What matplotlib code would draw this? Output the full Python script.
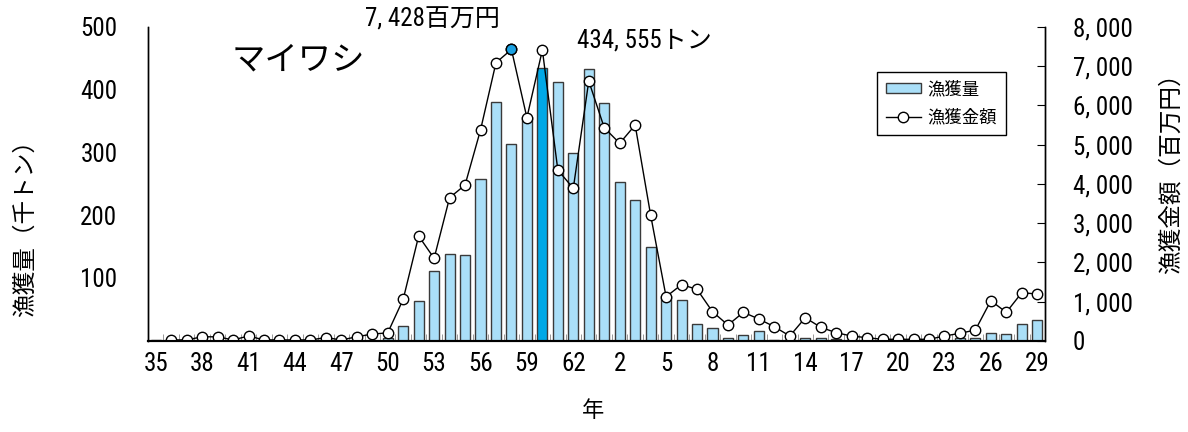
import numpy as np
import matplotlib
matplotlib.use("Agg")
import matplotlib.pyplot as plt
from matplotlib.patches import Patch
from matplotlib.lines import Line2D
from matplotlib.ticker import FixedLocator, FuncFormatter

plt.rcParams['font.family'] = ['Roboto Condensed', 'Noto Sans CJK JP', 'DejaVu Sans']

# years: Showa 35-63, Heisei 1-29
years = [str(y) for y in range(35, 64)] + [str(y) for y in range(1, 30)]

# catch (thousand tons)
catch = [1, 0.3, 0.3, 0.3, 0.3, 0.3, 0.3, 0.3, 0.3, 0.3, 0.3, 0.3, 0.3, 0.3, 0.3,
         4, 24, 64, 111, 139, 137, 258, 381, 314, 356, 434.555, 413, 299, 433,
         379, 253, 224, 150, 71, 65, 27, 20, 4, 9, 15, 1, 1, 4, 4, 2, 1,
         0.5, 0.3, 0.3, 0.3, 0.3, 1, 4, 4, 13, 11, 27, 33]

# landed value (million yen)
value = [np.nan, 20, 20, 100, 100, 20, 120, 20, 20, 20, 20, 80, 20, 100, 170,
         200, 1056, 2670, 2101, 3647, 3970, 5373, 7089, 7428, 5687, 7413, 4353, 3886, 6622,
         5432, 5034, 5500, 3205, 1122, 1430, 1311, 740, 400, 724, 553, 357, 120, 587, 342,
         204, 120, 77, 36, 36, 36, 36, 120, 189, 273, 1020, 724, 1224, 1191]

x = np.arange(len(years))
peak_catch = int(np.argmax(catch))
peak_value = int(np.nanargmax(value))

bar_colors = ['#aadff8'] * len(x)
bar_colors[peak_catch] = '#00a8e6'

fig = plt.figure(figsize=(11.88, 4.32), dpi=100)
ax = fig.add_axes([0.1246, 0.2113, 0.7550, 0.7262])
ax2 = ax.twinx()

ax.bar(x, catch, width=0.65, color=bar_colors, edgecolor='#3a3a3a', linewidth=1.0)
ax2.plot(x, value, color='black', linewidth=1.0, marker='o', markersize=7.5,
         markerfacecolor='white', markeredgecolor='black', markeredgewidth=1.0)
ax2.plot([peak_value], [value[peak_value]], marker='o', markersize=7.5, linestyle='none',
         markerfacecolor='#1ba1e2', markeredgecolor='black', markeredgewidth=1.0)

ax.set_xlim(-0.5, len(x) - 0.5)
ax.set_ylim(0, 500)
ax2.set_ylim(0, 8000)

ax.set_xticks(x[::3])
ax.set_xticklabels(years[::3], fontsize=18)
ax.xaxis.set_minor_locator(FixedLocator(x[:-1] + 0.5))
ax.tick_params(axis='x', which='major', length=0, pad=8)
ax.tick_params(axis='x', which='minor', direction='in', length=5, color='#888888')

ax.set_yticks([100, 200, 300, 400, 500])
ax.tick_params(axis='y', labelsize=18, direction='in', length=0, pad=22)
ax2.set_yticks(np.arange(0, 8001, 1000))
ax2.yaxis.set_major_formatter(FuncFormatter(lambda v, p: '0' if v == 0 else f'{int(v) // 1000}, {int(v) % 1000:03d}'))
ax2.tick_params(axis='y', labelsize=18, direction='in', length=6, pad=20)

for a in (ax, ax2):
    a.spines['top'].set_visible(False)
    a.spines['left'].set_linewidth(1.0)
    a.spines['right'].set_linewidth(1.0)
    a.spines['bottom'].set_linewidth(1.5)

ax.text(9.2, 447, 'マイワシ', fontsize=24, ha='center', va='center', family='Noto Sans CJK JP')
ax2.text(17.9, 8180, '7, 428百万円', fontsize=18, ha='center', va='center', clip_on=False)
ax.text(31.6, 479, '434, 555トン', fontsize=18, ha='center', va='center', clip_on=False)

fig.text(0.021, 0.485, '漁獲量（千トン）', rotation=90, fontsize=17, ha='center', va='center',
         family='Noto Sans CJK JP')
fig.text(0.986, 0.612, '漁獲金額（百万円）', rotation=90, fontsize=17, ha='center', va='center',
         family='Noto Sans CJK JP')
fig.text(0.499, 0.05, '年', fontsize=16, ha='center', va='center', family='Noto Sans CJK JP')

handles = [Patch(facecolor='#aadff8', edgecolor='#3a3a3a', linewidth=1.0),
           Line2D([], [], color='black', linewidth=1.0, marker='o', markersize=7.5,
                  markerfacecolor='white', markeredgecolor='black')]
leg = ax2.legend(handles, ['漁獲量', '漁獲金額'], loc='upper left', bbox_to_anchor=(0.813, 0.857),
                 borderaxespad=0, fancybox=False, edgecolor='black', framealpha=1,
                 prop={'family': 'Noto Sans CJK JP', 'size': 12.5}, handlelength=2.0,
                 handleheight=0.5, handletextpad=0.4, labelspacing=0.55, borderpad=0.5)
leg.get_frame().set_linewidth(1.0)

fig.savefig('out.png', dpi=100)
